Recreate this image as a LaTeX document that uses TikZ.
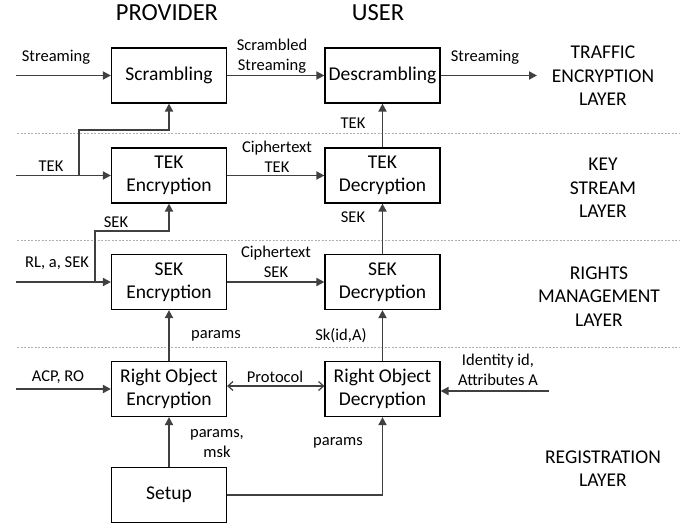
\documentclass[tikz,border=0pt]{standalone}
\usepackage{fontspec}
\setmainfont{Carlito}
\usetikzlibrary{arrows.meta}

\begin{document}
\begin{tikzpicture}[x=1pt,y=-1pt,
  box/.style={draw=black, line width=1.2pt, minimum width=115pt, minimum height=55pt,
    align=center, inner sep=1pt, font=\fontsize{19.5}{23}\selectfont},
  flow/.style={draw=linegray, line width=1.8pt, -{Triangle[length=8pt,width=8pt]}},
  both/.style={draw=linegray, line width=1.2pt, {Straight Barb[length=5pt,width=9pt]}-{Straight Barb[length=5pt,width=9pt]}},
  lbl/.style={font=\fontsize{16.5}{20}\selectfont, align=center, inner sep=0pt},
  layerlbl/.style={font=\fontsize{19.5}{23.5}\selectfont, align=center, inner sep=0pt},
  head/.style={font=\fontsize{24.5}{28}\selectfont, inner sep=0pt}]

% Colors
\definecolor{linegray}{RGB}{64,64,64}
\definecolor{sepgray}{RGB}{175,175,175}

\useasboundingbox (0,0) rectangle (697,527);

% Layer separators
\foreach \y in {133,240,347} {
  \draw[sepgray, line width=0.8pt, dash pattern=on 2pt off 1.5pt] (17,\y) -- (680,\y);
}

% Column headers
\node[head] (hprov) at (167,13) {PROVIDER};
\node[head] (huser) at (378,13) {USER};

% Provider boxes
\node[box] (scr) at (169,75.5) {Scrambling};
\node[box] (tekenc) at (169,175.5) {TEK\\Encryption};
\node[box] (sekenc) at (169,282) {SEK\\Encryption};
\node[box] (roenc) at (169,389) {Right Object\\Encryption};
\node[box] (setup) at (169,495) {Setup};

% User boxes
\node[box] (descr) at (382.5,75.5) {Descrambling};
\node[box] (tekdec) at (382.5,175.5) {TEK\\Decryption};
\node[box] (sekdec) at (382.5,282) {SEK\\Decryption};
\node[box] (rodec) at (382.5,389) {Right Object\\Decryption};

% Free ends and forks
\coordinate (strin) at (16,75.5);
\coordinate (strout) at (537,75.5);
\coordinate (tekin) at (16,175.5);
\coordinate (tekfork) at (79,175.5);
\coordinate (sekin) at (16,282);
\coordinate (sekfork) at (95,282);
\coordinate (acpin) at (16,389);
\coordinate (idin) at (549,391);

% Traffic encryption layer
\draw[flow] (strin) -- (scr);
\draw[flow] (scr) -- (descr);
\draw[flow] (descr) -- (strout);
\draw[flow] (tekfork) -- (79,130) -| (scr);

% Key stream layer
\draw[flow] (tekin) -- (tekenc);
\draw[flow] (tekenc) -- (tekdec);
\draw[flow] (tekdec) -- (descr);
\draw[flow] (sekfork) -- (95,231) -| (tekenc);

% Rights management layer
\draw[flow] (sekin) -- (sekenc);
\draw[flow] (sekenc) -- (sekdec);
\draw[flow] (sekdec) -- (tekdec);
\draw[flow] (roenc) -- (sekenc);
\draw[flow] (rodec) -- (sekdec);

% Registration layer
\draw[flow] (acpin) -- (roenc);
\draw[both] (roenc.east |- 0,386) -- (rodec.west |- 0,386);
\draw[flow] (idin) -- (rodec.east |- idin);
\draw[flow] (setup) -- (roenc);
\draw[flow] (setup) -| (rodec);

% Connector labels
\node[lbl] (lstrin) at (56,57) {Streaming};
\node[lbl] (lscr) at (272,56.5) {Scrambled\\Streaming};
\node[lbl] (lstrout) at (485,57) {Streaming};
\node[lbl] (ltekin) at (51,166) {TEK};
\node[lbl] (ltekup) at (353,123) {TEK};
\node[lbl] (lcitek) at (277,156.5) {Ciphertext\\TEK};
\node[lbl] (lsekup) at (116,222) {SEK};
\node[lbl] (lsekdec) at (353,217) {SEK};
\node[lbl] (lsekin) at (57,263) {RL, a, SEK};
\node[lbl] (lcisek) at (276,261.5) {Ciphertext\\SEK};
\node[lbl] (lparams) at (216,336) {params};
\node[lbl] (lsk) at (341,336) {Sk(id,A)};
\node[lbl] (lacp) at (58,377) {ACP, RO};
\node[lbl] (lprot) at (275,377) {Protocol};
\node[lbl] (lid) at (498,370) {Identity id,\\Attributes A};
\node[lbl] (lmsk) at (217,444) {params,\\msk};
\node[lbl] (lparams2) at (338,443) {params};

% Layer names
\node[layerlbl] (ltraffic) at (603,76) {TRAFFIC\\ENCRYPTION\\LAYER};
\node[layerlbl] (lkey) at (603,188) {KEY\\STREAM\\LAYER};
\node[layerlbl] (lrights) at (599,296.5) {RIGHTS\\MANAGEMENT\\LAYER};
\node[layerlbl] (lreg) at (603,468.5) {REGISTRATION\\LAYER};

\end{tikzpicture}
\end{document}
